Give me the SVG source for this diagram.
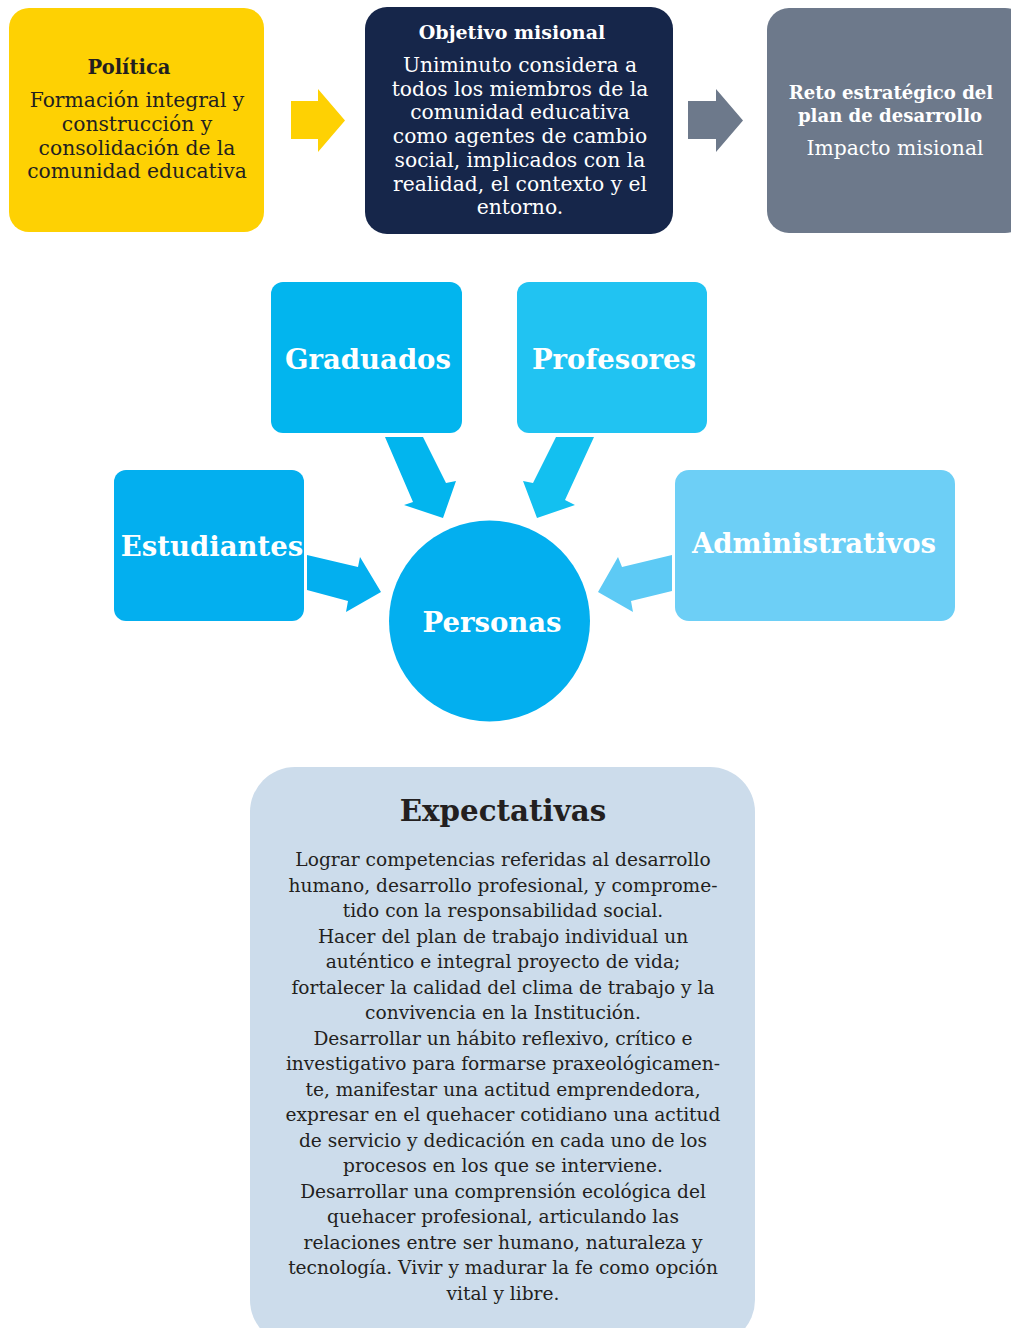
<svg xmlns="http://www.w3.org/2000/svg" width="1011" height="1328" viewBox="0 0 1011 1328">
<style>
.t{font-family:"DejaVu Serif","Liberation Serif",serif;text-anchor:middle}
.b{font-weight:bold}
.dark{fill:#231F20}
.w{fill:#FFFFFF}
.top{font-size:20.3px}
.big{font-size:27.5px;font-weight:bold;fill:#FFFFFF}
.body{font-size:18.6px;fill:#231F20}
</style>
<rect width="1011" height="1328" fill="#FFFFFF"/>
<g id="connectors">
<polygon id="arrow-politica-objetivo" points="291,101 318,101 318,89 345,120.5 318,152 318,139 291,139" fill="#FED103"/>
<polygon id="arrow-objetivo-reto" points="688,101 716,101 716,89 743,120.5 716,152 716,139 688,139" fill="#6D798B"/>
<polygon id="arrow-graduados" points="385,437 423,437 446,483 456,481 443,518 404,505 413,502" fill="#02B5EE"/>
<polygon id="arrow-profesores" points="594,437 556,437 533,483 523,481 537,518 575,505 565,500" fill="#13C0F0"/>
<polygon id="arrow-estudiantes" points="307,555 358,567 360,557 381,592 346,612 348,601 307,590" fill="#03AFEF"/>
<polygon id="arrow-administrativos" points="672,555 622,567 618,557 598,592 633,612 631,601 672,591" fill="#5DCAF5"/>
</g>
<g id="politica">
<rect x="9" y="8" width="255" height="224" rx="20" fill="#FED103"/>
<text class="t b dark" x="129" y="74" font-size="19.5">Política</text>
<text class="t dark top" x="137" y="107">Formación integral y</text>
<text class="t dark top" x="137" y="131">construcción y</text>
<text class="t dark top" x="137" y="155">consolidación de la</text>
<text class="t dark top" x="137" y="178">comunidad educativa</text>
</g>
<g id="objetivo">
<rect x="365" y="7" width="308" height="227" rx="22" fill="#16264A"/>
<text class="t b w" x="512" y="39" font-size="19">Objetivo misional</text>
<text class="t w top" x="520" y="72">Uniminuto considera a</text>
<text class="t w top" x="520" y="96">todos los miembros de la</text>
<text class="t w top" x="520" y="119">comunidad educativa</text>
<text class="t w top" x="520" y="143">como agentes de cambio</text>
<text class="t w top" x="520" y="167">social, implicados con la</text>
<text class="t w top" x="520" y="191">realidad, el contexto y el</text>
<text class="t w top" x="520" y="214">entorno.</text>
</g>
<g id="reto">
<rect x="767" y="8" width="260" height="225" rx="22" fill="#6D798B"/>
<text class="t b w" x="891" y="99" font-size="18.1">Reto estratégico del</text>
<text class="t b w" x="890" y="122" font-size="18.1">plan de desarrollo</text>
<text class="t w top" x="895" y="155">Impacto misional</text>
</g>
<g id="graduados">
<rect x="271" y="282" width="191" height="151" rx="12" fill="#02B5EE"/>
<text class="t big" x="368" y="369">Graduados</text>
</g>
<g id="profesores">
<rect x="517" y="282" width="190" height="151" rx="12" fill="#21C3F2"/>
<text class="t big" x="614" y="369">Profesores</text>
</g>
<g id="estudiantes">
<rect x="114" y="470" width="190" height="151" rx="12" fill="#03AFEF"/>
<text class="t big" x="212" y="556">Estudiantes</text>
</g>
<g id="administrativos">
<rect x="675" y="470" width="280" height="151" rx="14" fill="#6DCFF6"/>
<text class="t big" x="814" y="553">Administrativos</text>
</g>
<g id="personas">
<circle cx="489.5" cy="621" r="100.5" fill="#03AFEF"/>
<text class="t big" x="492" y="632">Personas</text>
</g>
<g id="expectativas">
<rect x="250" y="767" width="505" height="578" rx="45" fill="#CCDCEB"/>
<text class="t b dark" x="503" y="821" font-size="29.3">Expectativas</text>
<text class="t body" x="503" y="866">Lograr competencias referidas al desarrollo</text>
<text class="t body" x="503" y="891.5">humano, desarrollo profesional, y comprome-</text>
<text class="t body" x="503" y="917">tido con la responsabilidad social.</text>
<text class="t body" x="503" y="942.5">Hacer del plan de trabajo individual un</text>
<text class="t body" x="503" y="968">auténtico e integral proyecto de vida;</text>
<text class="t body" x="503" y="993.5">fortalecer la calidad del clima de trabajo y la</text>
<text class="t body" x="503" y="1019">convivencia en la Institución.</text>
<text class="t body" x="503" y="1044.5">Desarrollar un hábito reflexivo, crítico e</text>
<text class="t body" x="503" y="1070">investigativo para formarse praxeológicamen-</text>
<text class="t body" x="503" y="1095.5">te, manifestar una actitud emprendedora,</text>
<text class="t body" x="503" y="1121">expresar en el quehacer cotidiano una actitud</text>
<text class="t body" x="503" y="1146.5">de servicio y dedicación en cada uno de los</text>
<text class="t body" x="503" y="1172">procesos en los que se interviene.</text>
<text class="t body" x="503" y="1197.5">Desarrollar una comprensión ecológica del</text>
<text class="t body" x="503" y="1223">quehacer profesional, articulando las</text>
<text class="t body" x="503" y="1248.5">relaciones entre ser humano, naturaleza y</text>
<text class="t body" x="503" y="1274">tecnología. Vivir y madurar la fe como opción</text>
<text class="t body" x="503" y="1299.5">vital y libre.</text>
</g>
</svg>
